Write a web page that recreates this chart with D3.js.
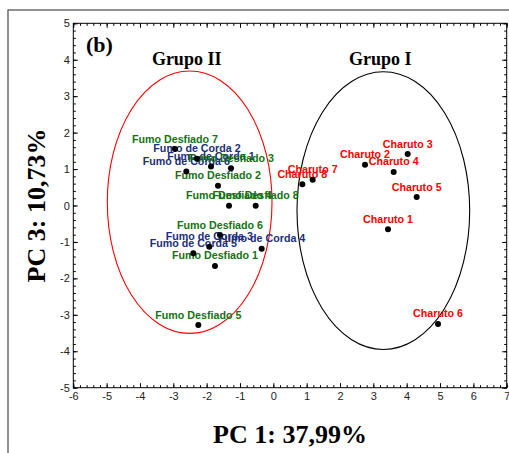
<!DOCTYPE html>
<html>
<head>
<meta charset="utf-8">
<script src="https://cdn.jsdelivr.net/npm/d3@7"></script>
<style>
  html, body { margin: 0; padding: 0; background: #fff; }
  svg { display: block; }
</style>
</head>
<body>
<svg id="chart" width="509" height="453"></svg>
<script>
// PCA scores (PC1 vs PC3) for the tobacco samples
const sampleNames = [
  "Fumo Desfiado 7", "Fumo de Corda 2", "Fumo de Corda 6", "Fumo de Corda 1",
  "Fumo Desfiado 3", "Fumo Desfiado 2", "Fumo Desfiado 4", "Fumo Desfiado 8",
  "Fumo Desfiado 6", "Fumo de Corda 3", "Fumo de Corda 4", "Fumo de Corda 5",
  "Fumo Desfiado 1", "Fumo Desfiado 5",
  "Charuto 3", "Charuto 2", "Charuto 4", "Charuto 7", "Charuto 8",
  "Charuto 5", "Charuto 1", "Charuto 6"
];
const pc1Scores = [
  -2.95, -2.29, -2.61, -1.87,
  -1.27, -1.66, -1.33, -0.53,
  -1.60, -1.92, -0.35, -2.40,
  -1.75, -2.25,
  4.03, 2.75, 3.61, 1.18, 0.87,
  4.30, 3.44, 4.94
];
const pc3Scores = [
  1.55, 1.28, 0.93, 1.07,
  1.02, 0.54, -0.01, -0.01,
  -0.81, -1.13, -1.19, -1.31,
  -1.66, -3.28,
  1.41, 1.12, 0.92, 0.71, 0.58,
  0.23, -0.65, -3.25
];

// Group ellipses: centre (PC1, PC3) and semi-axes
const groupNames = ["Grupo II", "Grupo I"];
const groupCx = [-2.51, 3.30];
const groupCy = [0.09, -0.14];
const groupRx = [2.47, 2.59];
const groupRy = [3.60, 3.81];

const xTicks = [-6, -5, -4, -3, -2, -1, 0, 1, 2, 3, 4, 5, 6, 7];
const yTicks = [-5, -4, -3, -2, -1, 0, 1, 2, 3, 4, 5];

const svg = d3.select("#chart");

const plotLeft = 73.3, plotRight = 506.7, plotTop = 23.3, plotBottom = 387.7;
const x = d3.scaleLinear().domain([-6, 7]).range([plotLeft, plotRight]);
const y = d3.scaleLinear().domain([-5, 5]).range([plotBottom, plotTop]);

// outer figure frame
svg.append("rect")
  .attr("x", 8).attr("y", 10).attr("width", 560).attr("height", 500)
  .attr("fill", "none").attr("stroke", "#555").attr("stroke-width", 1.3);

const minorX = d3.range(-6, 7.001, 0.2).map(v => +v.toFixed(1));
const minorY = d3.range(-5, 5.001, 0.2).map(v => +v.toFixed(1));
const plainInt = d => String(d);   // ASCII hyphen for negatives

function styleAxis(g) {
  g.select(".domain").remove();
  g.selectAll("line").attr("stroke", "#000").attr("stroke-width", 1);
  g.selectAll("text")
    .attr("font-family", "Liberation Sans, Arial, sans-serif")
    .attr("font-size", 11)
    .attr("fill", "#222");
}

// bottom axis
svg.append("g").attr("transform", `translate(0,${plotBottom})`)
  .call(d3.axisBottom(x).tickValues(minorX).tickFormat("").tickSize(-2.5))
  .call(styleAxis);
svg.append("g").attr("transform", `translate(0,${plotBottom})`)
  .call(d3.axisBottom(x).tickValues(xTicks).tickFormat(plainInt).tickSize(-4.5).tickPadding(5))
  .call(styleAxis);
// top axis
svg.append("g").attr("transform", `translate(0,${plotTop})`)
  .call(d3.axisTop(x).tickValues(minorX).tickFormat("").tickSize(-2.5))
  .call(styleAxis);
svg.append("g").attr("transform", `translate(0,${plotTop})`)
  .call(d3.axisTop(x).tickValues(xTicks).tickFormat("").tickSize(-4.5))
  .call(styleAxis);
// left axis
svg.append("g").attr("transform", `translate(${plotLeft},0)`)
  .call(d3.axisLeft(y).tickValues(minorY).tickFormat("").tickSize(-2.5))
  .call(styleAxis);
svg.append("g").attr("transform", `translate(${plotLeft},0)`)
  .call(d3.axisLeft(y).tickValues(yTicks).tickFormat(plainInt).tickSize(-4.5).tickPadding(3.5))
  .call(styleAxis);
// right axis
svg.append("g").attr("transform", `translate(${plotRight},0)`)
  .call(d3.axisRight(y).tickValues(minorY).tickFormat("").tickSize(-2.5))
  .call(styleAxis);
svg.append("g").attr("transform", `translate(${plotRight},0)`)
  .call(d3.axisRight(y).tickValues(yTicks).tickFormat("").tickSize(-4.5))
  .call(styleAxis);

// plot frame
svg.append("rect")
  .attr("x", plotLeft).attr("y", plotTop)
  .attr("width", plotRight - plotLeft).attr("height", plotBottom - plotTop)
  .attr("fill", "none").attr("stroke", "#000").attr("stroke-width", 1);

// group ellipses
const ellipseColors = ["#ff0000", "#000000"];
svg.selectAll("ellipse.group")
  .data(groupNames)
  .join("ellipse")
  .attr("class", "group")
  .attr("cx", (d, i) => x(groupCx[i]))
  .attr("cy", (d, i) => y(groupCy[i]))
  .attr("rx", (d, i) => x(groupCx[i] + groupRx[i]) - x(groupCx[i]))
  .attr("ry", (d, i) => y(groupCy[i]) - y(groupCy[i] + groupRy[i]))
  .attr("fill", "none")
  .attr("stroke", (d, i) => ellipseColors[i])
  .attr("stroke-width", 1.1);

// group titles
svg.selectAll("text.group")
  .data(groupNames)
  .join("text")
  .attr("class", "group")
  .attr("x", (d, i) => x(groupCx[i]) - 3)
  .attr("y", 65)
  .attr("text-anchor", "middle")
  .attr("font-family", "Liberation Serif, Times New Roman, serif")
  .attr("font-weight", "bold")
  .attr("font-size", 18)
  .attr("fill", "#000")
  .text(d => d);

// panel tag
svg.append("text")
  .attr("x", 86).attr("y", 52)
  .attr("font-family", "Liberation Serif, Times New Roman, serif")
  .attr("font-weight", "bold")
  .attr("font-size", 22)
  .text("(b)");

// sample labels and points
function labelColor(name) {
  if (name.startsWith("Charuto")) return "#ff0000";
  if (name.startsWith("Fumo de Corda")) return "#1c2f78";
  return "#137313";
}
const samples = sampleNames.map((n, i) => ({ name: n, pc1: pc1Scores[i], pc3: pc3Scores[i] }));

svg.append("g").selectAll("text")
  .data(samples)
  .join("text")
  .attr("x", d => x(d.pc1))
  .attr("y", d => y(d.pc3) - 6.5)
  .attr("text-anchor", "middle")
  .attr("font-family", "Liberation Sans, Arial, sans-serif")
  .attr("font-weight", "bold")
  .attr("font-size", 10.7)
  .attr("fill", d => labelColor(d.name))
  .text(d => d.name);

svg.append("g").selectAll("circle")
  .data(samples)
  .join("circle")
  .attr("cx", d => x(d.pc1))
  .attr("cy", d => y(d.pc3))
  .attr("r", 3)
  .attr("fill", "#000");

// axis titles
svg.append("text")
  .attr("x", (plotLeft + plotRight) / 2).attr("y", 443)
  .attr("text-anchor", "middle")
  .attr("font-family", "Liberation Serif, Times New Roman, serif")
  .attr("font-weight", "bold")
  .attr("font-size", 26)
  .text("PC 1: 37,99%");

svg.append("text")
  .attr("transform", `translate(45,${(plotTop + plotBottom) / 2}) rotate(-90)`)
  .attr("text-anchor", "middle")
  .attr("font-family", "Liberation Serif, Times New Roman, serif")
  .attr("font-weight", "bold")
  .attr("font-size", 26)
  .text("PC 3: 10,73%");
</script>
</body>
</html>
